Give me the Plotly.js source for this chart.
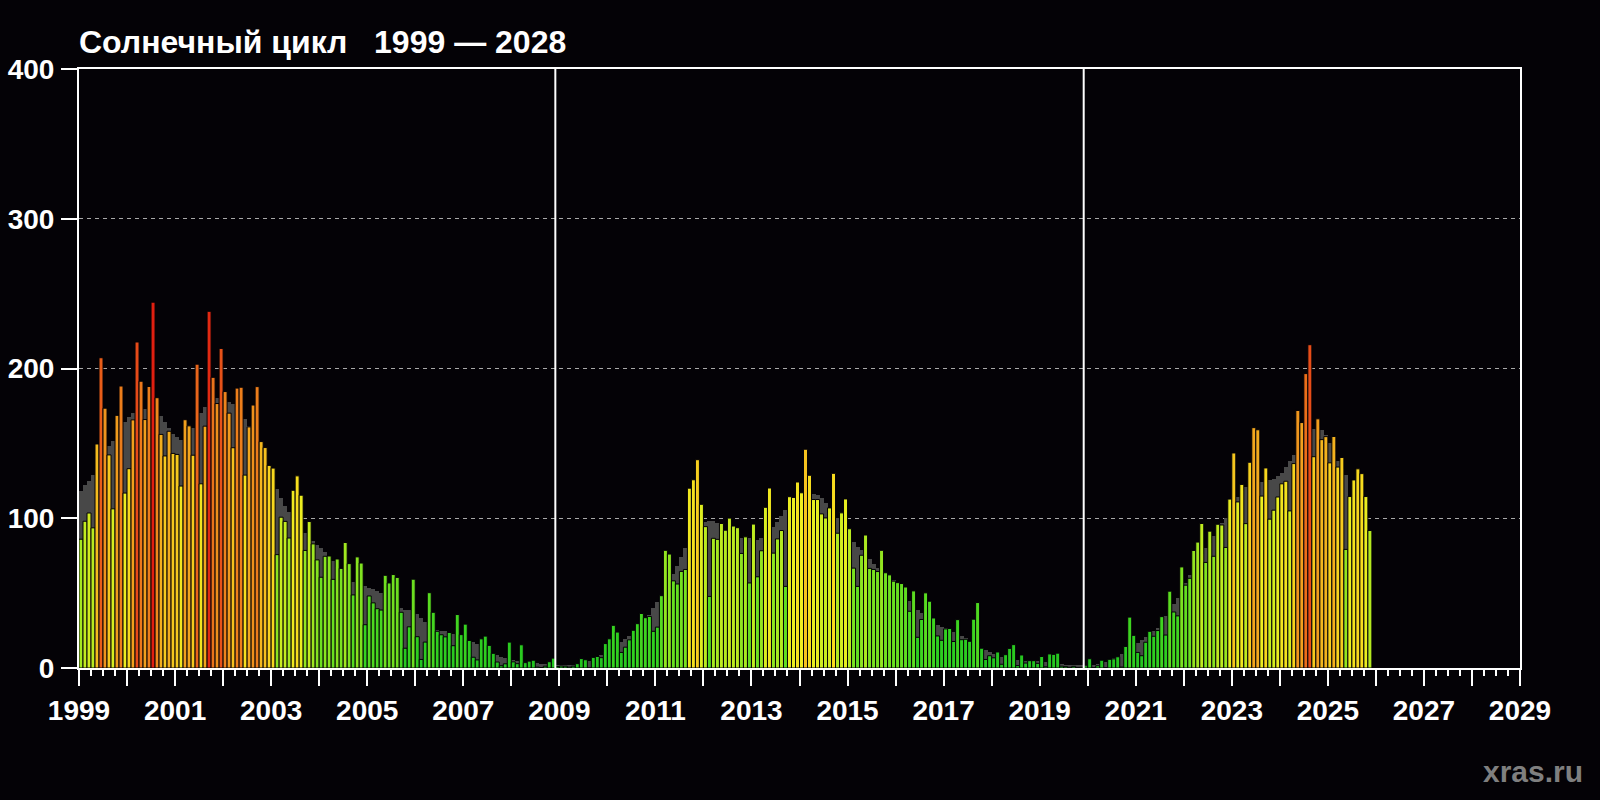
<!DOCTYPE html>
<html>
<head>
<meta charset="utf-8">
<script src="https://cdn.plot.ly/plotly-3.0.1.min.js"></script>
<style>
  html, body { margin: 0; padding: 0; background: #040206; }
  #chart { width: 1600px; height: 800px; }
</style>
</head>
<body>
<div id="chart"></div>
<script>
// ---------------- DATA ----------------
const startYear = 1999;

// Monthly mean sunspot number, Jan 1999 .. Nov 2025
const monthlySunspots = [
  86.0, 98.0, 103.5, 93.6, 149.6, 207.2, 173.5, 142.3, 106.3, 168.7, 188.3, 116.8,
  133.1, 165.7, 217.7, 191.5, 165.9, 188.0, 244.3, 180.5, 156.0, 141.6, 158.1, 143.3,
  142.6, 121.5, 165.8, 161.7, 142.1, 202.9, 123.0, 161.5, 238.2, 194.1, 176.6, 213.4,
  184.6, 170.2, 147.1, 186.9, 187.5, 128.8, 161.0, 175.6, 187.9, 151.2, 147.2, 135.3,
  133.5, 75.7, 100.7, 97.9, 86.8, 118.7, 128.3, 115.4, 78.5, 97.8, 82.9, 72.2,
  60.6, 74.6, 74.8, 59.2, 72.8, 66.5, 83.8, 69.7, 48.8, 74.2, 70.1, 28.9,
  48.1, 43.5, 39.6, 38.7, 61.9, 56.8, 62.4, 60.5, 37.2, 13.2, 27.5, 59.3,
  20.9, 5.7, 17.3, 50.3, 37.2, 24.5, 22.2, 20.8, 23.7, 14.9, 35.7, 22.3,
  29.3, 18.4, 7.2, 5.4, 19.5, 21.3, 15.1, 9.8, 4.0, 1.5, 2.8, 17.3,
  4.1, 2.9, 15.5, 3.6, 4.6, 5.2, 0.6, 0.3, 1.2, 4.2, 6.6, 1.0,
  1.3, 1.2, 0.6, 1.2, 2.9, 6.3, 5.5, 0.0, 7.1, 7.7, 6.9, 16.3,
  19.5, 28.5, 24.0, 10.4, 13.9, 18.8, 25.2, 29.6, 36.4, 33.6, 34.4, 24.5,
  27.3, 48.3, 78.6, 76.1, 58.2, 56.1, 64.5, 65.8, 120.1, 125.7, 139.1, 109.3,
  94.4, 47.8, 86.6, 85.9, 96.5, 92.0, 100.1, 94.8, 93.7, 76.5, 87.6, 56.8,
  96.1, 60.9, 78.3, 107.3, 120.2, 76.7, 86.2, 91.8, 54.5, 114.4, 113.9, 124.2,
  117.0, 146.1, 128.7, 112.5, 112.5, 102.9, 100.2, 106.9, 130.0, 90.0, 103.6, 112.9,
  93.0, 66.7, 54.5, 75.3, 88.8, 66.5, 65.8, 64.4, 78.6, 63.6, 62.2, 58.0,
  57.0, 56.4, 54.1, 37.9, 51.5, 20.5, 32.4, 50.2, 44.6, 33.4, 21.4, 18.5,
  26.1, 26.4, 17.7, 32.3, 18.9, 19.2, 17.8, 32.6, 43.7, 13.2, 5.7, 8.2,
  6.8, 10.7, 2.5, 8.9, 13.1, 15.6, 1.6, 8.7, 3.3, 4.9, 4.9, 3.1,
  7.7, 0.8, 9.4, 9.1, 9.9, 1.2, 0.9, 0.5, 1.1, 0.4, 0.5, 1.5,
  6.2, 0.2, 1.5, 5.2, 0.2, 5.8, 6.1, 7.5, 0.6, 14.4, 34.0, 21.8,
  10.4, 8.2, 17.2, 24.5, 21.2, 25.0, 34.3, 22.0, 51.3, 37.4, 34.8, 67.5,
  55.3, 59.9, 78.5, 84.1, 96.5, 70.5, 91.4, 74.6, 96.0, 95.5, 80.5, 112.8,
  143.6, 110.9, 122.6, 96.4, 137.4, 160.5, 159.1, 114.8, 133.6, 99.4, 105.4, 114.2,
  123.0, 124.7, 104.9, 136.5, 172.0, 163.9, 196.6, 215.9, 141.1, 166.4, 152.5, 154.5,
  137.0, 154.6, 134.2, 140.6, 79.2, 114.5, 125.6, 133.0, 129.8, 114.5, 91.8
];

// Smoothed sunspot number (grey background), Jan 1999 .. May 2025
const smoothedSunspots = [
  118.4, 121.9, 124.6, 129.0, 134.2, 139.3, 143.8, 148.2, 151.5, 156.3, 160.8, 164.5,
  167.8, 170.3, 171.6, 173.9, 173.0, 172.1, 173.0, 172.0, 168.6, 164.2, 160.3, 156.5,
  154.0, 152.1, 153.0, 156.5, 160.5, 165.0, 170.0, 174.5, 177.0, 178.5, 180.3, 179.5,
  178.5, 177.5, 176.5, 174.5, 171.0, 166.5, 161.5, 156.0, 150.0, 143.5, 137.5, 131.5,
  125.5, 119.5, 113.5, 108.5, 104.5, 100.5, 96.5, 93.0, 90.0, 87.5, 85.0, 82.0,
  80.0, 77.5, 75.0, 71.5, 67.5, 64.0, 61.0, 59.0, 57.5, 56.5, 55.5, 54.5,
  53.5, 52.5, 51.5, 50.0, 48.5, 46.0, 44.0, 42.0, 40.0, 39.0, 38.5, 38.0,
  36.0, 33.5, 31.0, 29.0, 27.0, 25.5, 25.0, 24.5, 23.5, 23.0, 22.0, 21.0,
  20.0, 18.5, 17.5, 16.0, 14.5, 12.5, 11.0, 9.5, 8.5, 7.5, 7.0, 6.3,
  5.6, 5.0, 4.5, 4.1, 3.7, 3.4, 3.1, 2.8, 2.6, 2.4, 2.3, 2.2,
  1.8, 1.9, 2.0, 2.2, 2.6, 3.2, 3.9, 4.8, 6.0, 7.4, 9.0, 10.8,
  12.8, 14.6, 16.0, 17.5, 19.5, 21.5, 23.5, 25.5, 28.5, 32.0, 35.5, 40.0,
  44.0, 48.0, 52.5, 57.5, 63.0, 68.0, 74.0, 80.0, 85.0, 90.0, 93.5, 96.0,
  97.5, 98.0, 98.5, 97.0, 94.5, 92.0, 90.0, 88.5, 87.5, 87.0, 87.0, 86.5,
  86.0, 85.5, 86.5, 88.5, 91.0, 94.0, 97.5, 101.5, 105.5, 109.0, 111.5, 113.5,
  115.0, 115.8, 116.2, 116.4, 115.5, 113.5, 110.5, 107.0, 104.0, 100.0, 96.5, 92.5,
  88.0, 84.0, 81.0, 79.0, 76.0, 72.5, 69.5, 67.0, 65.0, 63.0, 61.0, 58.5,
  56.0, 53.0, 48.5, 45.0, 42.0, 39.0, 37.0, 35.0, 33.0, 31.0, 29.0, 27.5,
  26.5, 25.0, 24.0, 22.5, 21.5, 20.0, 18.0, 16.5, 15.0, 13.5, 12.0, 10.5,
  9.5, 8.5, 7.5, 7.0, 6.5, 6.0, 5.6, 5.3, 5.0, 4.8, 4.6, 4.4,
  4.1, 3.8, 3.5, 3.2, 2.9, 2.6, 2.3, 2.0, 1.8, 1.7, 1.7, 1.8,
  1.9, 2.2, 2.7, 3.4, 4.3, 5.3, 6.4, 7.6, 9.5, 12.0, 14.0, 15.5,
  16.8, 18.5, 20.5, 22.5, 24.5, 27.0, 30.5, 34.5, 38.5, 42.5, 47.0, 51.5,
  56.5, 62.0, 66.5, 71.5, 76.0, 80.0, 83.5, 88.0, 92.5, 96.5, 100.5, 105.0,
  110.0, 114.5, 118.0, 121.0, 122.5, 123.5, 124.0, 124.0, 124.5, 125.5, 126.5, 128.0,
  130.0, 134.0, 138.0, 142.5, 147.5, 151.5, 154.5, 157.5, 159.5, 160.9, 159.0, 155.5,
  150.0, 144.0, 138.0, 133.0, 129.0
];

// Cycle minima (year, month) marked by white vertical lines
const minimaYears = [2008, 2019];
const minimaMonths = [12, 12];

// X axis ticks / labels
const xTickYears = [1999, 2000, 2001, 2002, 2003, 2004, 2005, 2006, 2007, 2008, 2009, 2010,
  2011, 2012, 2013, 2014, 2015, 2016, 2017, 2018, 2019, 2020, 2021, 2022, 2023, 2024,
  2025, 2026, 2027, 2028, 2029];
const xTickLabels = ['1999', '', '2001', '', '2003', '', '2005', '', '2007', '', '2009', '',
  '2011', '', '2013', '', '2015', '', '2017', '', '2019', '', '2021', '', '2023', '',
  '2025', '', '2027', '', '2029'];
const yTickValues = [0, 100, 200, 300, 400];
const yTickLabels = ['0', '100', '200', '300', '400'];

const titleText = 'Солнечный цикл\u00a0\u00a0\u00a01999 — 2028';
const watermarkText = 'xras.ru';

// ---------------- CHART ----------------
const BG = '#040206';
const FONT = 'Liberation Sans, Arial, Helvetica, sans-serif';
const monthX = (i) => startYear + (i + 0.5) / 12;

const xMonthly = monthlySunspots.map((v, i) => monthX(i));
const xSmoothed = smoothedSunspots.map((v, i) => monthX(i));

const colorscale = [
  [0.000, '#20c020'],
  [0.102, '#30d020'],
  [0.204, '#58dc20'],
  [0.306, '#8ae420'],
  [0.408, '#c8ec20'],
  [0.469, '#ecee20'],
  [0.531, '#f8dc1e'],
  [0.592, '#f5c41e'],
  [0.653, '#f2a81e'],
  [0.735, '#ee8a1c'],
  [0.816, '#ea6a1a'],
  [0.898, '#e64618'],
  [1.000, '#e01e10']
];

const traces = [
  {
    type: 'bar',
    x: xSmoothed,
    y: smoothedSunspots,
    width: 1 / 12,
    marker: { color: '#484848', line: { width: 0 } },
    hoverinfo: 'skip'
  },
  {
    type: 'bar',
    x: xMonthly,
    y: monthlySunspots,
    width: 1 / 12,
    marker: {
      color: monthlySunspots,
      colorscale: colorscale,
      cmin: 0,
      cmax: 245,
      showscale: false,
      line: { color: BG, width: 1 }
    },
    hoverinfo: 'x+y'
  }
];

const shapes = minimaYears.map((yr, i) => {
  const xv = yr + (minimaMonths[i] - 1) / 12;
  return {
    type: 'line', xref: 'x', yref: 'y',
    x0: xv, x1: xv, y0: 0, y1: 400,
    line: { color: '#ffffff', width: 2 },
    layer: 'above'
  };
});

const layout = {
  width: 1600,
  height: 800,
  paper_bgcolor: BG,
  plot_bgcolor: BG,
  margin: { l: 79, r: 80, t: 69, b: 132 },
  barmode: 'overlay',
  bargap: 0,
  showlegend: false,
  font: { family: FONT, color: '#ffffff' },
  title: {
    text: titleText,
    xref: 'paper', x: 0, xanchor: 'left',
    yref: 'container', y: 0.948, yanchor: 'middle',
    font: { family: FONT, size: 32, color: '#ffffff', weight: 'bold' }
  },
  xaxis: {
    range: [1999, 2029],
    tickmode: 'array',
    tickvals: xTickYears,
    ticktext: xTickLabels,
    ticks: 'outside',
    ticklen: 16,
    tickwidth: 2,
    tickcolor: '#ffffff',
    showline: true,
    linecolor: '#ffffff',
    linewidth: 2,
    mirror: true,
    showgrid: false,
    zeroline: false,
    ticklabelstandoff: 0,
    tickfont: { family: FONT, size: 28, color: '#ffffff', weight: 'bold' },
    minor: {
      tick0: 1999,
      dtick: 0.25,
      ticks: 'outside',
      ticklen: 6,
      tickwidth: 2,
      tickcolor: '#ffffff',
      showgrid: false
    },
    fixedrange: true
  },
  yaxis: {
    range: [0, 400],
    tickmode: 'array',
    tickvals: yTickValues,
    ticktext: yTickLabels,
    ticks: 'outside',
    ticklen: 16,
    tickwidth: 2,
    tickcolor: '#ffffff',
    showline: true,
    linecolor: '#ffffff',
    linewidth: 2,
    mirror: true,
    showgrid: true,
    gridcolor: '#a8a8a8',
    gridwidth: 1,
    griddash: '4px,4px',
    zeroline: false,
    ticklabelstandoff: 1,
    tickfont: { family: FONT, size: 28, color: '#ffffff', weight: 'bold' },
    fixedrange: true
  },
  shapes: shapes,
  annotations: [
    {
      text: watermarkText,
      xref: 'paper', yref: 'paper',
      x: 1.0451, xanchor: 'right',
      y: -0.1736, yanchor: 'middle',
      showarrow: false,
      font: { family: FONT, size: 30, color: '#7f7f7f', weight: 'bold' }
    }
  ]
};

Plotly.newPlot('chart', traces, layout, { staticPlot: true, displayModeBar: false });
</script>
</body>
</html>
